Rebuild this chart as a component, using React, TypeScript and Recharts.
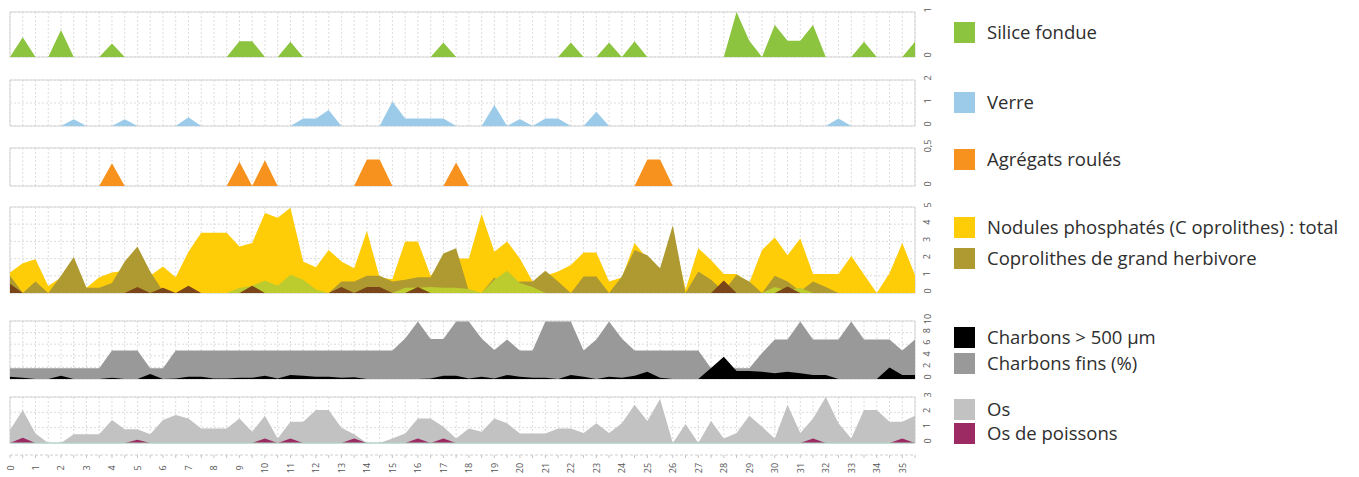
import React from 'react';
import { AreaChart, Area, XAxis, YAxis, CartesianGrid, ReferenceArea, ReferenceLine } from 'recharts';

// Depth steps (half units)
const depth = [
  0, 0.5, 1, 1.5, 2, 2.5, 3, 3.5, 4, 4.5,
  5, 5.5, 6, 6.5, 7, 7.5, 8, 8.5, 9, 9.5,
  10, 10.5, 11, 11.5, 12, 12.5, 13, 13.5, 14, 14.5,
  15, 15.5, 16, 16.5, 17, 17.5, 18, 18.5, 19, 19.5,
  20, 20.5, 21, 21.5, 22, 22.5, 23, 23.5, 24, 24.5,
  25, 25.5, 26, 26.5, 27, 27.5, 28, 28.5, 29, 29.5,
  30, 30.5, 31, 31.5, 32, 32.5, 33, 33.5, 34, 34.5,
  35, 35.5,
];

const xLabels = [
  0, 1, 2, 3, 4, 5, 6, 7, 8, 9, 10, 11, 12, 13, 14, 15, 16, 17,
  18, 19, 20, 21, 22, 23, 24, 25, 26, 27, 28, 29, 30, 31, 32, 33, 34, 35,
];

const silice = [
  0, 0.44, 0, 0, 0.6, 0, 0, 0, 0.3, 0,
  0, 0, 0, 0, 0, 0, 0, 0, 0.35, 0.35,
  0, 0, 0.34, 0, 0, 0, 0, 0, 0, 0,
  0, 0, 0, 0, 0.32, 0, 0, 0, 0, 0,
  0, 0, 0, 0, 0.32, 0, 0, 0.32, 0, 0.35,
  0, 0, 0, 0, 0, 0, 0, 1.0, 0.36, 0,
  0.71, 0.36, 0.36, 0.71, 0, 0, 0, 0.34, 0, 0,
  0, 0.34,
];

const verre = [
  0, 0, 0, 0, 0, 0.29, 0, 0, 0, 0.29,
  0, 0, 0, 0, 0.38, 0, 0, 0, 0, 0,
  0, 0, 0, 0.33, 0.33, 0.7, 0, 0, 0, 0,
  1.06, 0.33, 0.33, 0.33, 0.33, 0, 0, 0, 0.91, 0,
  0.3, 0, 0.33, 0.33, 0, 0, 0.62, 0, 0, 0,
  0, 0, 0, 0, 0, 0, 0, 0, 0, 0,
  0, 0, 0, 0, 0, 0.33, 0, 0, 0, 0,
  0, 0,
];

const agregats = [
  0, 0, 0, 0, 0, 0, 0, 0, 0.3, 0,
  0, 0, 0, 0, 0, 0, 0, 0, 0.32, 0,
  0.34, 0, 0, 0, 0, 0, 0, 0, 0.35, 0.35,
  0, 0, 0, 0, 0, 0.31, 0, 0, 0, 0,
  0, 0, 0, 0, 0, 0, 0, 0, 0, 0,
  0.35, 0.35, 0, 0, 0, 0, 0, 0, 0, 0,
  0, 0, 0, 0, 0, 0, 0, 0, 0, 0,
  0, 0,
];

const nodules = [
  1.19, 1.73, 1.96, 0.4, 0.9, 1.5, 0.3, 0.92, 1.19, 1.3,
  1.5, 1.0, 1.54, 0.92, 2.4, 3.5, 3.5, 3.5, 2.7, 2.9,
  4.65, 4.38, 4.96, 1.83, 1.5, 2.5, 1.83, 1.44, 3.6, 0.9,
  0.8, 3.0, 3.0, 1.0, 1.8, 2.0, 2.0, 4.6, 2.4, 3.0,
  2.0, 0.67, 1.0, 1.25, 1.63, 2.35, 2.35, 0.67, 0.9, 2.9,
  2.0, 1.3, 3.5, 0.2, 2.6, 1.92, 1.1, 1.1, 0.6, 2.5,
  3.23, 2.2, 3.17, 1.1, 1.1, 1.1, 2.15, 1.08, 0, 1.15,
  2.9, 1.05,
];

const coprolithes = [
  1.0, 0, 0.67, 0, 1.0, 2.1, 0.3, 0.3, 0.58, 1.83,
  2.7, 1.25, 0.1, 0, 0, 0, 0, 0, 0, 0,
  0, 0, 0, 0, 0, 0, 0.67, 0.67, 1.0, 1.0,
  0.67, 0.77, 0.92, 0.92, 2.3, 2.6, 0.1, 0, 0.9, 0.3,
  0.67, 0.67, 1.3, 0.67, 0, 0.96, 0.96, 0, 0.96, 2.5,
  2.2, 1.44, 3.94, 0, 1.25, 0.77, 0.1, 1.06, 0.67, 0,
  1.0, 0.67, 0.1, 0.67, 0.35, 0, 0, 0, 0, 0,
  0, 0,
];

const nodulesVerts = [
  0, 0, 0, 0, 0, 0, 0, 0, 0, 0,
  0, 0, 0, 0, 0, 0, 0, 0, 0.29, 0.42,
  0.73, 0.42, 1.06, 0.77, 0.2, 0, 0, 0, 0, 0,
  0, 0.3, 0.3, 0.35, 0.3, 0.3, 0.23, 0, 0.77, 1.3,
  0.58, 0.35, 0, 0, 0, 0, 0, 0, 0, 0,
  0, 0, 0, 0, 0, 0, 0, 0, 0, 0,
  0.35, 0.15, 0.3, 0, 0, 0, 0, 0, 0, 0,
  0, 0,
];

const nodulesBruns = [
  0.54, 0, 0, 0, 0, 0, 0, 0, 0, 0,
  0.35, 0, 0.3, 0, 0.42, 0, 0, 0, 0, 0.42,
  0, 0, 0, 0, 0, 0, 0.35, 0, 0.35, 0.35,
  0, 0, 0.35, 0, 0, 0, 0, 0, 0, 0,
  0, 0, 0, 0, 0, 0, 0, 0, 0, 0,
  0, 0, 0, 0, 0, 0, 0.73, 0, 0, 0,
  0, 0.38, 0, 0, 0, 0, 0, 0, 0, 0,
  0, 0,
];

const charbonsFins = [
  1.84, 1.84, 1.84, 1.84, 1.84, 1.84, 1.84, 1.84, 4.9, 4.9,
  4.9, 1.84, 1.84, 4.9, 4.9, 4.9, 4.9, 4.9, 4.9, 4.9,
  4.9, 4.9, 4.9, 4.9, 4.9, 4.9, 4.9, 4.9, 4.9, 4.9,
  4.9, 7.0, 9.9, 6.9, 6.9, 9.9, 9.9, 7.0, 5.0, 6.8,
  4.9, 4.9, 9.9, 9.9, 9.9, 4.9, 6.8, 9.9, 7.0, 4.9,
  4.9, 4.9, 4.9, 4.9, 4.9, 1.84, 1.84, 1.84, 1.84, 4.5,
  6.8, 6.8, 9.9, 6.8, 6.8, 6.8, 9.9, 6.8, 6.8, 6.8,
  4.9, 6.8,
];

const charbons500 = [
  0.4, 0.2, 0, 0, 0.57, 0, 0, 0, 0.2, 0,
  0, 0.86, 0, 0.1, 0.4, 0.4, 0.1, 0.1, 0.2, 0.2,
  0.57, 0.1, 0.69, 0.57, 0.4, 0.4, 0.2, 0.3, 0, 0,
  0, 0, 0, 0.1, 0.57, 0.57, 0.1, 0.4, 0.1, 0.69,
  0.4, 0.2, 0.2, 0, 0.69, 0.4, 0, 0.4, 0.2, 0.57,
  1.26, 0.2, 0, 0, 0, 1.9, 3.85, 1.38, 1.38, 1.26,
  1.0, 1.26, 1.0, 0.69, 0.69, 0, 0, 0, 0, 2.0,
  0.69, 0.69,
];

const os = [
  0.84, 2.16, 0.62, 0, 0, 0.57, 0.57, 0.57, 1.5, 0.9,
  0.9, 0.57, 1.5, 1.83, 1.6, 0.95, 0.95, 0.95, 1.6, 0.73,
  1.77, 0.29, 1.39, 1.39, 2.16, 2.16, 1.0, 0.57, 0, 0,
  0.29, 0.62, 1.6, 1.6, 1.06, 0.29, 0.95, 0.73, 1.6, 1.28,
  0.62, 0.62, 0.62, 0.95, 0.95, 0.66, 1.28, 0.66, 1.28, 2.5,
  1.43, 2.87, 0, 1.24, 0, 1.43, 0.29, 0.66, 1.77, 1.06,
  0.29, 2.5, 0.66, 1.6, 3.0, 1.28, 0.29, 2.16, 2.16, 1.39,
  1.39, 1.77,
];

const osPoissons = [
  0, 0.35, 0, 0, 0, 0, 0, 0, 0, 0,
  0.22, 0, 0, 0, 0, 0, 0, 0, 0, 0,
  0.29, 0, 0.29, 0, 0, 0, 0, 0.29, 0, 0,
  0, 0, 0.29, 0, 0.29, 0, 0, 0, 0, 0,
  0, 0, 0, 0, 0, 0, 0, 0, 0, 0,
  0, 0, 0, 0, 0, 0, 0, 0, 0, 0,
  0, 0, 0, 0.29, 0, 0, 0, 0, 0, 0,
  0.29, 0,
];

const ticksSilice = [0, 1];
const ticksVerre = [0, 1, 2];
const ticksAgregats = [0, 0.5];
const ticksNodules = [0, 1, 2, 3, 4, 5];
const ticksCharbons = [0, 2, 4, 6, 8, 10];
const ticksOs = [0, 1, 2, 3];

const rows = depth.map((d, i) => ({
  d,
  silice: silice[i],
  verre: verre[i],
  agregats: agregats[i],
  nodules: nodules[i],
  coprolithes: coprolithes[i],
  verts: nodulesVerts[i],
  bruns: nodulesBruns[i],
  fins: charbonsFins[i],
  gros: charbons500[i],
  os: os[i],
  poissons: osPoissons[i],
}));

const FONT = '"Open Sans", "Noto Sans", "DejaVu Sans", sans-serif';
const CHART_W = 960;
const AXIS_W = 45;
const PAD = 14;

const RightTick = (props: any) => {
  const { x, y, payload } = props;
  const label = String(payload.value).replace('.', ',');
  const cx = x + 4;
  const cy = y - 2;
  return (
    <text
      x={cx}
      y={cy}
      transform={`rotate(-90 ${cx} ${cy})`}
      textAnchor="middle"
      dominantBaseline="central"
      fontSize={9}
      fill="#555"
      fontFamily={FONT}
    >
      {label}
    </text>
  );
};

const BottomTick = (props: any) => {
  const { x, y, payload } = props;
  if (!xLabels.includes(payload.value)) return <g />;
  const cx = x;
  const cy = y + 8;
  return (
    <text
      x={cx}
      y={cy}
      transform={`rotate(-90 ${cx} ${cy})`}
      textAnchor="middle"
      dominantBaseline="central"
      fontSize={9}
      fill="#555"
      fontFamily={FONT}
    >
      {payload.value}
    </text>
  );
};

type Serie = { key: string; color: string };

const Panel = ({
  top,
  height,
  max,
  ticks,
  series,
  baseLine,
}: {
  top: number;
  height: number;
  max: number;
  ticks: number[];
  series: Serie[];
  baseLine?: string;
}) => (
  <div style={{ position: 'absolute', left: 0, top: top - PAD }}>
    <AreaChart
      width={CHART_W}
      height={height + 2 * PAD}
      data={rows}
      margin={{ top: PAD, right: 0, bottom: PAD, left: 10 }}
    >
      <CartesianGrid stroke="#dcdcdc" strokeDasharray="2 2" />
      <XAxis dataKey="d" type="number" domain={[0, 35.5]} ticks={depth} interval={0} hide />
      <YAxis
        orientation="right"
        width={AXIS_W}
        domain={[0, max]}
        ticks={ticks}
        interval={0}
        axisLine={false}
        tickLine={false}
        tick={<RightTick />}
        allowDataOverflow
      />
      <ReferenceArea x1={0} x2={35.5} y1={0} y2={max} fill="none" fillOpacity={0} stroke="#d6d6d6" />
      {series.map((s) => (
        <Area
          key={s.key}
          type="linear"
          dataKey={s.key}
          stroke="none"
          fill={s.color}
          fillOpacity={1}
          isAnimationActive={false}
          dot={false}
          activeDot={false}
        />
      ))}
      {baseLine ? <ReferenceLine y={0} stroke={baseLine} strokeWidth={1} /> : null}
    </AreaChart>
  </div>
);

const legendItems = [
  { label: 'Silice fondue', color: '#8cc43f', cy: 32 },
  { label: 'Verre', color: '#9ccbe9', cy: 102 },
  { label: 'Agrégats roulés', color: '#f7921e', cy: 159 },
  { label: 'Nodules phosphatés (C oprolithes) : total', color: '#ffcc08', cy: 227 },
  { label: 'Coprolithes de grand herbivore', color: '#ae9a30', cy: 258 },
  { label: 'Charbons > 500 µm', color: '#000000', cy: 337 },
  { label: 'Charbons fins (%)', color: '#999999', cy: 363 },
  { label: 'Os', color: '#c2c2c2', cy: 409 },
  { label: 'Os de poissons', color: '#9c2b63', cy: 433 },
];

export default function App() {
  return (
    <div
      style={{
        position: 'absolute',
        left: 0,
        top: 0,
        width: 1359,
        height: 477,
        background: '#fff',
        overflow: 'hidden',
        fontFamily: FONT,
      }}
    >
      <Panel top={12} height={45} max={1} ticks={ticksSilice} series={[{ key: 'silice', color: '#8cc43f' }]} />
      <Panel top={80} height={46} max={2} ticks={ticksVerre} series={[{ key: 'verre', color: '#9ccbe9' }]} />
      <Panel top={148} height={38} max={0.5} ticks={ticksAgregats} series={[{ key: 'agregats', color: '#f7921e' }]} />
      <Panel
        top={207}
        height={86}
        max={5}
        ticks={ticksNodules}
        series={[
          { key: 'nodules', color: '#ffcc08' },
          { key: 'coprolithes', color: '#ae9a30' },
          { key: 'verts', color: '#bccb2e' },
          { key: 'bruns', color: '#7a4519' },
        ]}
      />
      <Panel
        top={321}
        height={58}
        max={10}
        ticks={ticksCharbons}
        series={[
          { key: 'fins', color: '#999999' },
          { key: 'gros', color: '#000000' },
        ]}
      />
      <Panel
        top={397}
        height={46}
        max={3}
        ticks={ticksOs}
        series={[
          { key: 'os', color: '#c2c2c2' },
          { key: 'poissons', color: '#9c2b63' },
        ]}
        baseLine="#a9d6c3"
      />
      <div style={{ position: 'absolute', left: 0, top: 445 }}>
        <AreaChart width={CHART_W} height={32} data={rows} margin={{ top: 0, right: AXIS_W, bottom: 0, left: 10 }}>
          <XAxis
            dataKey="d"
            type="number"
            domain={[0, 35.5]}
            ticks={depth}
            interval={0}
            height={22}
            axisLine={{ stroke: '#cfcfcf', strokeDasharray: '3 2' }}
            tickLine={{ stroke: '#c4c4c4' }}
            tickSize={3}
            tick={<BottomTick />}
          />
          <Area dataKey="os" stroke="none" fill="none" isAnimationActive={false} dot={false} activeDot={false} />
        </AreaChart>
      </div>
      {legendItems.map((it) => (
        <div key={it.label}>
          <div
            style={{
              position: 'absolute',
              left: 954,
              top: it.cy - 10,
              width: 21,
              height: 21,
              background: it.color,
            }}
          />
          <div
            style={{
              position: 'absolute',
              left: 987,
              top: it.cy - 12,
              height: 24,
              lineHeight: '24px',
              fontSize: 18.5,
              color: '#2e2e2e',
              whiteSpace: 'nowrap',
            }}
          >
            {it.label}
          </div>
        </div>
      ))}
    </div>
  );
}
